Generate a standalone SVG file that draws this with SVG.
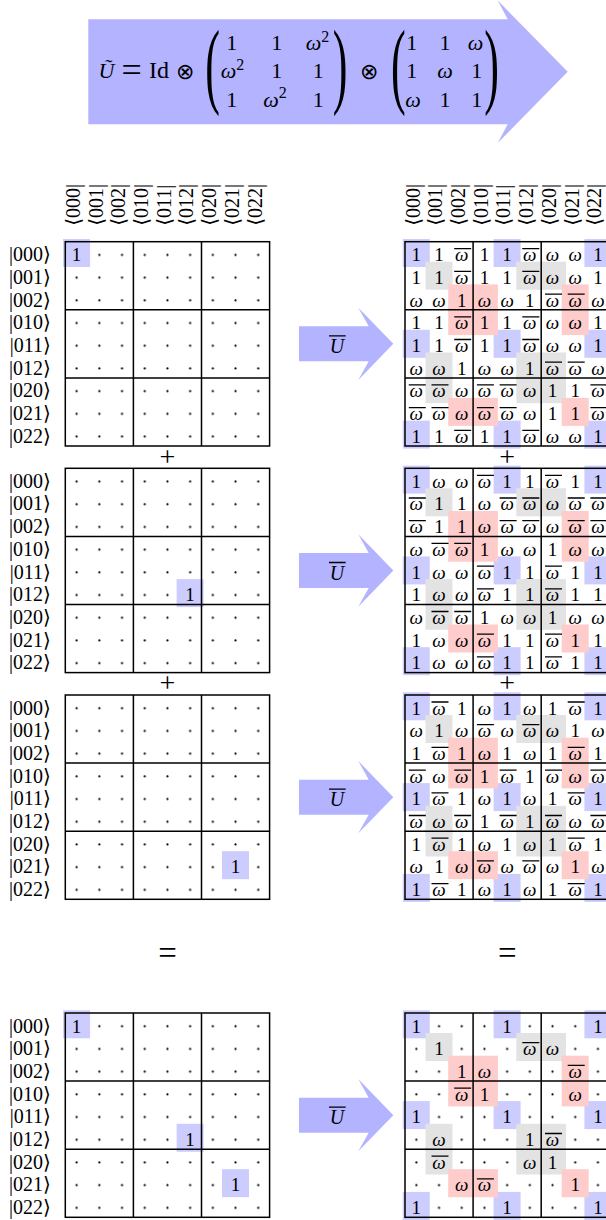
<svg xmlns="http://www.w3.org/2000/svg" width="606" height="1220" viewBox="0 0 606 1220">
<style>
text{font-family:"Liberation Serif","DejaVu Serif","DejaVu Sans",serif;fill:#000}
.g text{font-size:19px;text-anchor:middle}
.w{font-style:italic}
.g text.lbl{text-anchor:end;font-size:20px}
.g text.hdr{text-anchor:start;font-size:20px}
.bar{fill:none;stroke:#000;stroke-width:1.3}
.gl{fill:none;stroke:#000;stroke-width:1.5}
.hb{fill:#ccccff}.hg{fill:#e3e3e3}.hp{fill:#ffcccc}
.arr{fill:#b3b3ff}
.f{font-size:22px;text-anchor:middle}
.op{font-family:"DejaVu Sans",sans-serif;font-weight:200;font-size:22px;text-anchor:middle}
.par{font-size:96px;text-anchor:middle}
.big{font-size:33px;text-anchor:middle}
.pl{font-size:28px;text-anchor:middle}
.ul{font-size:20px;font-style:italic;text-anchor:middle}
</style>
<defs>
<pattern id="dots" width="22.7" height="22.7" patternUnits="userSpaceOnUse"><circle cx="11.35" cy="13.3" r="1.1" fill="#000"/></pattern>
<g id="gl" class="gl"><rect x="0" y="0" width="204.3" height="204.3"/><path d="M68.1 0V204.3M136.2 0V204.3M0 68.1H204.3M0 136.2H204.3"/></g>
<g id="hl">
<rect class="hb" x="-2.2" y="-2.7" width="27" height="28"/><rect class="hb" x="88.6" y="-2.7" width="27" height="28"/><rect class="hb" x="179.4" y="-2.7" width="27" height="28"/>
<rect class="hb" x="-2.2" y="88.1" width="27" height="28"/><rect class="hb" x="88.6" y="88.1" width="27" height="28"/><rect class="hb" x="179.4" y="88.1" width="27" height="28"/>
<rect class="hb" x="-2.2" y="178.9" width="27" height="28"/><rect class="hb" x="88.6" y="178.9" width="27" height="28"/><rect class="hb" x="179.4" y="178.9" width="27" height="28"/>
<rect class="hg" x="20.5" y="20" width="27" height="28"/><rect class="hg" x="111.3" y="20" width="27" height="28"/><rect class="hg" x="134" y="20" width="27" height="28"/>
<rect class="hg" x="20.5" y="110.8" width="27" height="28"/><rect class="hg" x="111.3" y="110.8" width="27" height="28"/><rect class="hg" x="134" y="110.8" width="27" height="28"/>
<rect class="hg" x="20.5" y="133.5" width="27" height="28"/><rect class="hg" x="111.3" y="133.5" width="27" height="28"/><rect class="hg" x="134" y="133.5" width="27" height="28"/>
<rect class="hp" x="43.2" y="42.7" width="27" height="28"/><rect class="hp" x="65.9" y="42.7" width="27" height="28"/><rect class="hp" x="156.7" y="42.7" width="27" height="28"/>
<rect class="hp" x="43.2" y="65.4" width="27" height="28"/><rect class="hp" x="65.9" y="65.4" width="27" height="28"/><rect class="hp" x="156.7" y="65.4" width="27" height="28"/>
<rect class="hp" x="43.2" y="156.2" width="27" height="28"/><rect class="hp" x="65.9" y="156.2" width="27" height="28"/><rect class="hp" x="156.7" y="156.2" width="27" height="28"/>
</g>
<polygon id="ar" class="arr" points="299,-17.5 368.7,-17.5 358.3,-36.2 393.3,0 358.3,36.2 368.7,17.5 299,17.5"/>
</defs>

<g id="formula">
<polygon class="arr" points="88.3,19.3 507.7,19.3 497.7,0.5 567.7,71.8 497.7,143 507.7,124.3 88.3,124.3"/>
<text class="f w" x="106.5" y="78">Ũ</text>
<text class="f" x="131.7" y="82" style="font-size:36px">=</text>
<text class="f" x="159" y="78" style="font-size:24px">Id</text>
<text class="op" x="185" y="78.5">⊗</text>
<text class="par" transform="translate(212.5 96) scale(0.46 1)">(</text>
<text class="f" x="231.7" y="50">1</text><text class="f" x="276.7" y="50">1</text><text class="f" x="317.5" y="50"><tspan class="w">ω</tspan><tspan dy="-8.5" style="font-size:16px">2</tspan></text>
<text class="f" x="232.5" y="78"><tspan class="w">ω</tspan><tspan dy="-8.5" style="font-size:16px">2</tspan></text><text class="f" x="276.7" y="78">1</text><text class="f" x="318.3" y="78">1</text>
<text class="f" x="231.7" y="106.5">1</text><text class="f" x="275" y="106.5"><tspan class="w">ω</tspan><tspan dy="-8.5" style="font-size:16px">2</tspan></text><text class="f" x="318.3" y="106.5">1</text>
<text class="par" transform="translate(340 96) scale(0.46 1)">)</text>
<text class="op" x="369" y="78.5">⊗</text>
<text class="par" transform="translate(398.3 96) scale(0.46 1)">(</text>
<text class="f" x="411.7" y="50">1</text><text class="f" x="445" y="50">1</text><text class="f w" x="475.5" y="50">ω</text>
<text class="f" x="411.7" y="78">1</text><text class="f w" x="445" y="78">ω</text><text class="f" x="476.7" y="78">1</text>
<text class="f w" x="413" y="106.5">ω</text><text class="f" x="445" y="106.5">1</text><text class="f" x="476.7" y="106.5">1</text>
<text class="par" transform="translate(491.5 96) scale(0.46 1)">)</text>
</g>

<g id="L1" class="g" transform="translate(65.3 241.7)">
<text class="hdr" transform="translate(14.6 -16) rotate(-90)">⟨000|</text><text class="hdr" transform="translate(37.3 -16) rotate(-90)">⟨001|</text><text class="hdr" transform="translate(60 -16) rotate(-90)">⟨002|</text><text class="hdr" transform="translate(82.7 -16) rotate(-90)">⟨010|</text><text class="hdr" transform="translate(105.4 -16) rotate(-90)">⟨011|</text><text class="hdr" transform="translate(128.1 -16) rotate(-90)">⟨012|</text><text class="hdr" transform="translate(150.8 -16) rotate(-90)">⟨020|</text><text class="hdr" transform="translate(173.5 -16) rotate(-90)">⟨021|</text><text class="hdr" transform="translate(196.2 -16) rotate(-90)">⟨022|</text>
<text class="lbl" x="-14.5" y="19.5">|000⟩</text><text class="lbl" x="-14.5" y="42.2">|001⟩</text><text class="lbl" x="-14.5" y="64.9">|002⟩</text><text class="lbl" x="-14.5" y="87.6">|010⟩</text><text class="lbl" x="-14.5" y="110.3">|011⟩</text><text class="lbl" x="-14.5" y="133">|012⟩</text><text class="lbl" x="-14.5" y="155.7">|020⟩</text><text class="lbl" x="-14.5" y="178.4">|021⟩</text><text class="lbl" x="-14.5" y="201.1">|022⟩</text>
<rect width="204.3" height="204.3" fill="url(#dots)"/>
<rect class="hb" x="-2.2" y="-2.7" width="27" height="28"/>
<use href="#gl"/>
<text x="11.3" y="19.5">1</text>
</g>

<g id="L2" class="g" transform="translate(65.3 468.3)">
<text class="lbl" x="-14.5" y="19.5">|000⟩</text><text class="lbl" x="-14.5" y="42.2">|001⟩</text><text class="lbl" x="-14.5" y="64.9">|002⟩</text><text class="lbl" x="-14.5" y="87.6">|010⟩</text><text class="lbl" x="-14.5" y="110.3">|011⟩</text><text class="lbl" x="-14.5" y="133">|012⟩</text><text class="lbl" x="-14.5" y="155.7">|020⟩</text><text class="lbl" x="-14.5" y="178.4">|021⟩</text><text class="lbl" x="-14.5" y="201.1">|022⟩</text>
<rect width="204.3" height="204.3" fill="url(#dots)"/>
<rect class="hb" x="111.3" y="110.8" width="27" height="28"/>
<use href="#gl"/>
<text x="124.8" y="133">1</text>
</g>

<g id="L3" class="g" transform="translate(65.3 695)">
<text class="lbl" x="-14.5" y="19.5">|000⟩</text><text class="lbl" x="-14.5" y="42.2">|001⟩</text><text class="lbl" x="-14.5" y="64.9">|002⟩</text><text class="lbl" x="-14.5" y="87.6">|010⟩</text><text class="lbl" x="-14.5" y="110.3">|011⟩</text><text class="lbl" x="-14.5" y="133">|012⟩</text><text class="lbl" x="-14.5" y="155.7">|020⟩</text><text class="lbl" x="-14.5" y="178.4">|021⟩</text><text class="lbl" x="-14.5" y="201.1">|022⟩</text>
<rect width="204.3" height="204.3" fill="url(#dots)"/>
<rect class="hb" x="156.7" y="156.2" width="27" height="28"/>
<use href="#gl"/>
<text x="170.2" y="178.4">1</text>
</g>

<g id="L4" class="g" transform="translate(65.3 1013)">
<text class="lbl" x="-14.5" y="19.5">|000⟩</text><text class="lbl" x="-14.5" y="42.2">|001⟩</text><text class="lbl" x="-14.5" y="64.9">|002⟩</text><text class="lbl" x="-14.5" y="87.6">|010⟩</text><text class="lbl" x="-14.5" y="110.3">|011⟩</text><text class="lbl" x="-14.5" y="133">|012⟩</text><text class="lbl" x="-14.5" y="155.7">|020⟩</text><text class="lbl" x="-14.5" y="178.4">|021⟩</text><text class="lbl" x="-14.5" y="201.1">|022⟩</text>
<rect width="204.3" height="204.3" fill="url(#dots)"/>
<rect class="hb" x="-2.2" y="-2.7" width="27" height="28"/><rect class="hb" x="111.3" y="110.8" width="27" height="28"/><rect class="hb" x="156.7" y="156.2" width="27" height="28"/>
<use href="#gl"/>
<text x="11.3" y="19.5">1</text><text x="124.8" y="133">1</text><text x="170.2" y="178.4">1</text>
</g>

<g id="R1" class="g" transform="translate(405 241.7)">
<text class="hdr" transform="translate(14.6 -16) rotate(-90)">⟨000|</text><text class="hdr" transform="translate(37.3 -16) rotate(-90)">⟨001|</text><text class="hdr" transform="translate(60 -16) rotate(-90)">⟨002|</text><text class="hdr" transform="translate(82.7 -16) rotate(-90)">⟨010|</text><text class="hdr" transform="translate(105.4 -16) rotate(-90)">⟨011|</text><text class="hdr" transform="translate(128.1 -16) rotate(-90)">⟨012|</text><text class="hdr" transform="translate(150.8 -16) rotate(-90)">⟨020|</text><text class="hdr" transform="translate(173.5 -16) rotate(-90)">⟨021|</text><text class="hdr" transform="translate(196.2 -16) rotate(-90)">⟨022|</text>
<use href="#hl"/>
<use href="#gl"/>
<text x="11.3" y="19.5">1</text><text x="34" y="19.5">1</text><text class="w" x="56.7" y="19.5">ω</text><text x="79.4" y="19.5">1</text><text x="102.1" y="19.5">1</text><text class="w" x="124.8" y="19.5">ω</text><text class="w" x="147.5" y="19.5">ω</text><text class="w" x="170.2" y="19.5">ω</text><text x="192.9" y="19.5">1</text>
<text x="11.3" y="42.2">1</text><text x="34" y="42.2">1</text><text class="w" x="56.7" y="42.2">ω</text><text x="79.4" y="42.2">1</text><text x="102.1" y="42.2">1</text><text class="w" x="124.8" y="42.2">ω</text><text class="w" x="147.5" y="42.2">ω</text><text class="w" x="170.2" y="42.2">ω</text><text x="192.9" y="42.2">1</text>
<text class="w" x="11.3" y="64.9">ω</text><text class="w" x="34" y="64.9">ω</text><text x="56.7" y="64.9">1</text><text class="w" x="79.4" y="64.9">ω</text><text class="w" x="102.1" y="64.9">ω</text><text x="124.8" y="64.9">1</text><text class="w" x="147.5" y="64.9">ω</text><text class="w" x="170.2" y="64.9">ω</text><text class="w" x="192.9" y="64.9">ω</text>
<text x="11.3" y="87.6">1</text><text x="34" y="87.6">1</text><text class="w" x="56.7" y="87.6">ω</text><text x="79.4" y="87.6">1</text><text x="102.1" y="87.6">1</text><text class="w" x="124.8" y="87.6">ω</text><text class="w" x="147.5" y="87.6">ω</text><text class="w" x="170.2" y="87.6">ω</text><text x="192.9" y="87.6">1</text>
<text x="11.3" y="110.3">1</text><text x="34" y="110.3">1</text><text class="w" x="56.7" y="110.3">ω</text><text x="79.4" y="110.3">1</text><text x="102.1" y="110.3">1</text><text class="w" x="124.8" y="110.3">ω</text><text class="w" x="147.5" y="110.3">ω</text><text class="w" x="170.2" y="110.3">ω</text><text x="192.9" y="110.3">1</text>
<text class="w" x="11.3" y="133">ω</text><text class="w" x="34" y="133">ω</text><text x="56.7" y="133">1</text><text class="w" x="79.4" y="133">ω</text><text class="w" x="102.1" y="133">ω</text><text x="124.8" y="133">1</text><text class="w" x="147.5" y="133">ω</text><text class="w" x="170.2" y="133">ω</text><text class="w" x="192.9" y="133">ω</text>
<text class="w" x="11.3" y="155.7">ω</text><text class="w" x="34" y="155.7">ω</text><text class="w" x="56.7" y="155.7">ω</text><text class="w" x="79.4" y="155.7">ω</text><text class="w" x="102.1" y="155.7">ω</text><text class="w" x="124.8" y="155.7">ω</text><text x="147.5" y="155.7">1</text><text x="170.2" y="155.7">1</text><text class="w" x="192.9" y="155.7">ω</text>
<text class="w" x="11.3" y="178.4">ω</text><text class="w" x="34" y="178.4">ω</text><text class="w" x="56.7" y="178.4">ω</text><text class="w" x="79.4" y="178.4">ω</text><text class="w" x="102.1" y="178.4">ω</text><text class="w" x="124.8" y="178.4">ω</text><text x="147.5" y="178.4">1</text><text x="170.2" y="178.4">1</text><text class="w" x="192.9" y="178.4">ω</text>
<text x="11.3" y="201.1">1</text><text x="34" y="201.1">1</text><text class="w" x="56.7" y="201.1">ω</text><text x="79.4" y="201.1">1</text><text x="102.1" y="201.1">1</text><text class="w" x="124.8" y="201.1">ω</text><text class="w" x="147.5" y="201.1">ω</text><text class="w" x="170.2" y="201.1">ω</text><text x="192.9" y="201.1">1</text>
<path class="bar" d="M49.2 7h17M117.3 7h17M49.2 29.7h17M117.3 29.7h17M140 52.4h17M162.7 52.4h17M49.2 75.1h17M117.3 75.1h17M49.2 97.8h17M117.3 97.8h17M140 120.5h17M162.7 120.5h17M3.8 143.2h17M26.5 143.2h17M71.9 143.2h17M94.6 143.2h17M185.4 143.2h17M3.8 165.9h17M26.5 165.9h17M71.9 165.9h17M94.6 165.9h17M185.4 165.9h17M49.2 188.6h17M117.3 188.6h17"/>
</g>

<g id="R2" class="g" transform="translate(405 468.3)">
<use href="#hl"/>
<use href="#gl"/>
<text x="11.3" y="19.5">1</text><text class="w" x="34" y="19.5">ω</text><text class="w" x="56.7" y="19.5">ω</text><text class="w" x="79.4" y="19.5">ω</text><text x="102.1" y="19.5">1</text><text x="124.8" y="19.5">1</text><text class="w" x="147.5" y="19.5">ω</text><text x="170.2" y="19.5">1</text><text x="192.9" y="19.5">1</text>
<text class="w" x="11.3" y="42.2">ω</text><text x="34" y="42.2">1</text><text x="56.7" y="42.2">1</text><text class="w" x="79.4" y="42.2">ω</text><text class="w" x="102.1" y="42.2">ω</text><text class="w" x="124.8" y="42.2">ω</text><text class="w" x="147.5" y="42.2">ω</text><text class="w" x="170.2" y="42.2">ω</text><text class="w" x="192.9" y="42.2">ω</text>
<text class="w" x="11.3" y="64.9">ω</text><text x="34" y="64.9">1</text><text x="56.7" y="64.9">1</text><text class="w" x="79.4" y="64.9">ω</text><text class="w" x="102.1" y="64.9">ω</text><text class="w" x="124.8" y="64.9">ω</text><text class="w" x="147.5" y="64.9">ω</text><text class="w" x="170.2" y="64.9">ω</text><text class="w" x="192.9" y="64.9">ω</text>
<text class="w" x="11.3" y="87.6">ω</text><text class="w" x="34" y="87.6">ω</text><text class="w" x="56.7" y="87.6">ω</text><text x="79.4" y="87.6">1</text><text class="w" x="102.1" y="87.6">ω</text><text class="w" x="124.8" y="87.6">ω</text><text x="147.5" y="87.6">1</text><text class="w" x="170.2" y="87.6">ω</text><text class="w" x="192.9" y="87.6">ω</text>
<text x="11.3" y="110.3">1</text><text class="w" x="34" y="110.3">ω</text><text class="w" x="56.7" y="110.3">ω</text><text class="w" x="79.4" y="110.3">ω</text><text x="102.1" y="110.3">1</text><text x="124.8" y="110.3">1</text><text class="w" x="147.5" y="110.3">ω</text><text x="170.2" y="110.3">1</text><text x="192.9" y="110.3">1</text>
<text x="11.3" y="133">1</text><text class="w" x="34" y="133">ω</text><text class="w" x="56.7" y="133">ω</text><text class="w" x="79.4" y="133">ω</text><text x="102.1" y="133">1</text><text x="124.8" y="133">1</text><text class="w" x="147.5" y="133">ω</text><text x="170.2" y="133">1</text><text x="192.9" y="133">1</text>
<text class="w" x="11.3" y="155.7">ω</text><text class="w" x="34" y="155.7">ω</text><text class="w" x="56.7" y="155.7">ω</text><text x="79.4" y="155.7">1</text><text class="w" x="102.1" y="155.7">ω</text><text class="w" x="124.8" y="155.7">ω</text><text x="147.5" y="155.7">1</text><text class="w" x="170.2" y="155.7">ω</text><text class="w" x="192.9" y="155.7">ω</text>
<text x="11.3" y="178.4">1</text><text class="w" x="34" y="178.4">ω</text><text class="w" x="56.7" y="178.4">ω</text><text class="w" x="79.4" y="178.4">ω</text><text x="102.1" y="178.4">1</text><text x="124.8" y="178.4">1</text><text class="w" x="147.5" y="178.4">ω</text><text x="170.2" y="178.4">1</text><text x="192.9" y="178.4">1</text>
<text x="11.3" y="201.1">1</text><text class="w" x="34" y="201.1">ω</text><text class="w" x="56.7" y="201.1">ω</text><text class="w" x="79.4" y="201.1">ω</text><text x="102.1" y="201.1">1</text><text x="124.8" y="201.1">1</text><text class="w" x="147.5" y="201.1">ω</text><text x="170.2" y="201.1">1</text><text x="192.9" y="201.1">1</text>
<path class="bar" d="M71.9 7h17M140 7h17M3.8 29.7h17M94.6 29.7h17M117.3 29.7h17M162.7 29.7h17M185.4 29.7h17M3.8 52.4h17M94.6 52.4h17M117.3 52.4h17M162.7 52.4h17M185.4 52.4h17M26.5 75.1h17M49.2 75.1h17M71.9 97.8h17M140 97.8h17M71.9 120.5h17M140 120.5h17M26.5 143.2h17M49.2 143.2h17M71.9 165.9h17M140 165.9h17M71.9 188.6h17M140 188.6h17"/>
</g>

<g id="R3" class="g" transform="translate(405 695)">
<use href="#hl"/>
<use href="#gl"/>
<text x="11.3" y="19.5">1</text><text class="w" x="34" y="19.5">ω</text><text x="56.7" y="19.5">1</text><text class="w" x="79.4" y="19.5">ω</text><text x="102.1" y="19.5">1</text><text class="w" x="124.8" y="19.5">ω</text><text x="147.5" y="19.5">1</text><text class="w" x="170.2" y="19.5">ω</text><text x="192.9" y="19.5">1</text>
<text class="w" x="11.3" y="42.2">ω</text><text x="34" y="42.2">1</text><text class="w" x="56.7" y="42.2">ω</text><text class="w" x="79.4" y="42.2">ω</text><text class="w" x="102.1" y="42.2">ω</text><text class="w" x="124.8" y="42.2">ω</text><text class="w" x="147.5" y="42.2">ω</text><text x="170.2" y="42.2">1</text><text class="w" x="192.9" y="42.2">ω</text>
<text x="11.3" y="64.9">1</text><text class="w" x="34" y="64.9">ω</text><text x="56.7" y="64.9">1</text><text class="w" x="79.4" y="64.9">ω</text><text x="102.1" y="64.9">1</text><text class="w" x="124.8" y="64.9">ω</text><text x="147.5" y="64.9">1</text><text class="w" x="170.2" y="64.9">ω</text><text x="192.9" y="64.9">1</text>
<text class="w" x="11.3" y="87.6">ω</text><text class="w" x="34" y="87.6">ω</text><text class="w" x="56.7" y="87.6">ω</text><text x="79.4" y="87.6">1</text><text class="w" x="102.1" y="87.6">ω</text><text x="124.8" y="87.6">1</text><text class="w" x="147.5" y="87.6">ω</text><text class="w" x="170.2" y="87.6">ω</text><text class="w" x="192.9" y="87.6">ω</text>
<text x="11.3" y="110.3">1</text><text class="w" x="34" y="110.3">ω</text><text x="56.7" y="110.3">1</text><text class="w" x="79.4" y="110.3">ω</text><text x="102.1" y="110.3">1</text><text class="w" x="124.8" y="110.3">ω</text><text x="147.5" y="110.3">1</text><text class="w" x="170.2" y="110.3">ω</text><text x="192.9" y="110.3">1</text>
<text class="w" x="11.3" y="133">ω</text><text class="w" x="34" y="133">ω</text><text class="w" x="56.7" y="133">ω</text><text x="79.4" y="133">1</text><text class="w" x="102.1" y="133">ω</text><text x="124.8" y="133">1</text><text class="w" x="147.5" y="133">ω</text><text class="w" x="170.2" y="133">ω</text><text class="w" x="192.9" y="133">ω</text>
<text x="11.3" y="155.7">1</text><text class="w" x="34" y="155.7">ω</text><text x="56.7" y="155.7">1</text><text class="w" x="79.4" y="155.7">ω</text><text x="102.1" y="155.7">1</text><text class="w" x="124.8" y="155.7">ω</text><text x="147.5" y="155.7">1</text><text class="w" x="170.2" y="155.7">ω</text><text x="192.9" y="155.7">1</text>
<text class="w" x="11.3" y="178.4">ω</text><text x="34" y="178.4">1</text><text class="w" x="56.7" y="178.4">ω</text><text class="w" x="79.4" y="178.4">ω</text><text class="w" x="102.1" y="178.4">ω</text><text class="w" x="124.8" y="178.4">ω</text><text class="w" x="147.5" y="178.4">ω</text><text x="170.2" y="178.4">1</text><text class="w" x="192.9" y="178.4">ω</text>
<text x="11.3" y="201.1">1</text><text class="w" x="34" y="201.1">ω</text><text x="56.7" y="201.1">1</text><text class="w" x="79.4" y="201.1">ω</text><text x="102.1" y="201.1">1</text><text class="w" x="124.8" y="201.1">ω</text><text x="147.5" y="201.1">1</text><text class="w" x="170.2" y="201.1">ω</text><text x="192.9" y="201.1">1</text>
<path class="bar" d="M26.5 7h17M162.7 7h17M71.9 29.7h17M117.3 29.7h17M26.5 52.4h17M162.7 52.4h17M3.8 75.1h17M49.2 75.1h17M94.6 75.1h17M140 75.1h17M185.4 75.1h17M26.5 97.8h17M162.7 97.8h17M3.8 120.5h17M49.2 120.5h17M94.6 120.5h17M140 120.5h17M185.4 120.5h17M26.5 143.2h17M162.7 143.2h17M71.9 165.9h17M117.3 165.9h17M26.5 188.6h17M162.7 188.6h17"/>
</g>

<g id="R4" class="g" transform="translate(405 1013)">
<rect width="204.3" height="204.3" fill="url(#dots)"/>
<use href="#hl"/>
<use href="#gl"/>
<text x="11.3" y="19.5">1</text><text x="102.1" y="19.5">1</text><text x="192.9" y="19.5">1</text>
<text x="34" y="42.2">1</text><text class="w" x="124.8" y="42.2">ω</text><text class="w" x="147.5" y="42.2">ω</text>
<text x="56.7" y="64.9">1</text><text class="w" x="79.4" y="64.9">ω</text><text class="w" x="170.2" y="64.9">ω</text>
<text class="w" x="56.7" y="87.6">ω</text><text x="79.4" y="87.6">1</text><text class="w" x="170.2" y="87.6">ω</text>
<text x="11.3" y="110.3">1</text><text x="102.1" y="110.3">1</text><text x="192.9" y="110.3">1</text>
<text class="w" x="34" y="133">ω</text><text x="124.8" y="133">1</text><text class="w" x="147.5" y="133">ω</text>
<text class="w" x="34" y="155.7">ω</text><text class="w" x="124.8" y="155.7">ω</text><text x="147.5" y="155.7">1</text>
<text class="w" x="56.7" y="178.4">ω</text><text class="w" x="79.4" y="178.4">ω</text><text x="170.2" y="178.4">1</text>
<text x="11.3" y="201.1">1</text><text x="102.1" y="201.1">1</text><text x="192.9" y="201.1">1</text>
<path class="bar" d="M117.3 29.7h17M162.7 52.4h17M49.2 75.1h17M140 120.5h17M26.5 143.2h17M71.9 165.9h17"/>
</g>

<g id="operators">
<text class="pl" x="167.45" y="465.5">+</text><text class="pl" x="507.15" y="465.5">+</text>
<text class="pl" x="167.45" y="692.1">+</text><text class="pl" x="507.15" y="692.1">+</text>
<text class="big" x="167.5" y="964">=</text><text class="big" x="507.2" y="964">=</text>
</g>

<g id="connectors">
<use href="#ar" y="343.85"/><use href="#ar" y="570.45"/><use href="#ar" y="797.15"/><use href="#ar" y="1115.15"/>
<text class="ul" x="337" y="352.9">U</text><text class="ul" x="337" y="579.5">U</text><text class="ul" x="337" y="806.2">U</text><text class="ul" x="337" y="1124.2">U</text>
<path class="bar" d="M329 335.9h16.7M329 562.5h16.7M329 789.2h16.7M329 1107.2h16.7"/>
</g>
</svg>
